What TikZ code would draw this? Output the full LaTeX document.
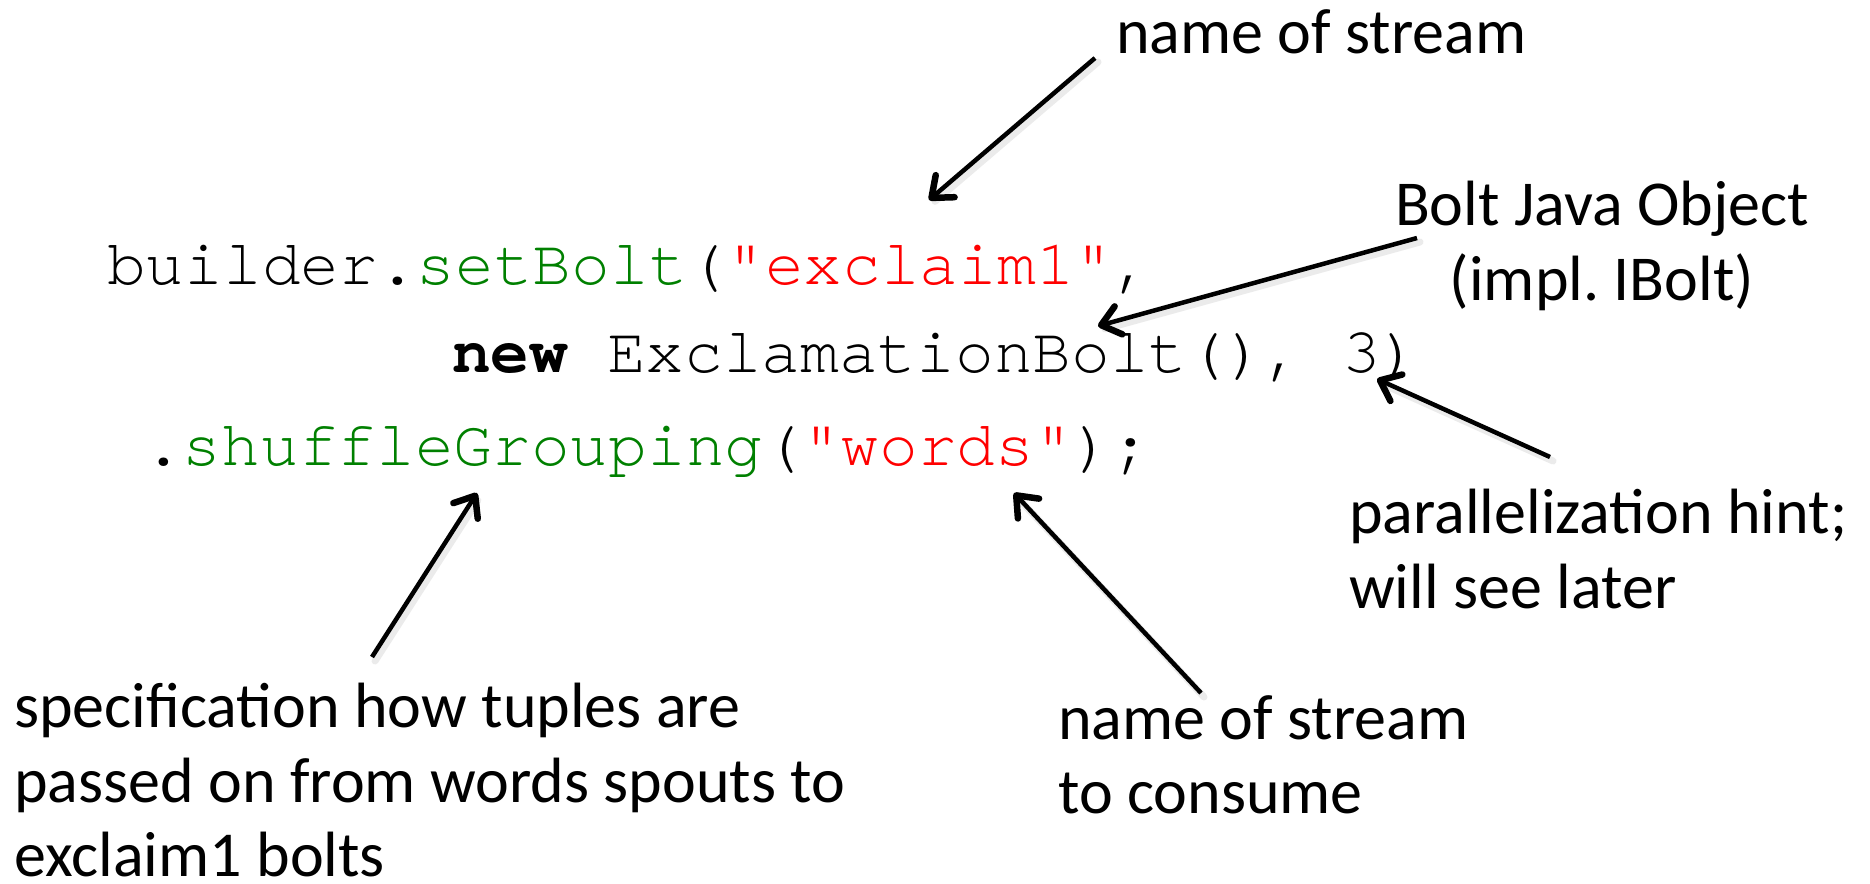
\documentclass[tikz,border=0pt]{standalone}
\usepackage{fontspec}
\setmainfont{Carlito}
\setmonofont[Ligatures=NoCommon]{TeX Gyre Cursor}
\usetikzlibrary{arrows.meta}
\definecolor{codegreen}{RGB}{0,128,0}
\definecolor{codered}{RGB}{255,0,0}
\frenchspacing
\begin{document}
\begin{tikzpicture}[x=1pt,y=-1pt,
  code/.style={anchor=base west,inner sep=0pt,font=\fontsize{64.5}{75}\selectfont\ttfamily},
  lbl/.style={anchor=base west,inner sep=0pt,font=\fontsize{64}{75}\selectfont},
  lblc/.style={anchor=base,inner sep=0pt,font=\fontsize{64}{75}\selectfont},
  pointer/.style={line width=4.5pt,-{Straight Barb[length=18pt,width=29pt,line width=6.5pt,round]}},
  pshadow/.style={line width=7pt,draw=black,opacity=0.08,line cap=round,shorten >=4pt}
]
\path[use as bounding box] (0,0) rectangle (1870,883);

% source code
\node[code] (c1) at (107,284) {builder.\textcolor{codegreen}{setBolt}(\textcolor{codered}{"exclaim1"},};
\node[code] (c2) at (452,372) {\textbf{new} ExclamationBolt(), 3)};
\node[code] (c3) at (144,465) {.\textcolor{codegreen}{shuffleGrouping}(\textcolor{codered}{"words"});};

% annotations
\node[lbl] (nameTop) at (1116,53) {name of stream};
\node[lblc] (bolt1) at (1602,225) {Bolt Java Object};
\node[lblc] (bolt2) at (1602,300) {(impl.\ IBolt)};
\node[lbl] (par1) at (1349,533) {parallelization hint;};
\node[lbl] (par2) at (1349,608) {will see later};
\node[lbl] (spec1) at (14,727) {specification how tuples are};
\node[lbl] (spec2) at (14,802) {passed on from words spouts to};
\node[lbl] (spec3) at (14,876) {exclaim1 bolts};
\node[lbl] (cons1) at (1058,739) {name of stream};
\node[lbl] (cons2) at (1058,813) {to consume};

% arrow ends
\coordinate (aStreamFrom) at (1095,58);
\coordinate (aStreamTo) at (929,200);
\coordinate (aBoltFrom) at (1417,238);
\coordinate (aBoltTo) at (1098,326);
\coordinate (aParFrom) at (1550,457);
\coordinate (aParTo) at (1377,379);
\coordinate (aGroupFrom) at (372,657);
\coordinate (aGroupTo) at (477,493);
\coordinate (aWordsFrom) at (1201,693);
\coordinate (aWordsTo) at (1014,493);

% soft drop shadows
\foreach \f/\t in {aStreamFrom/aStreamTo,aBoltFrom/aBoltTo,aParFrom/aParTo,aGroupFrom/aGroupTo,aWordsFrom/aWordsTo}{
  \draw[pshadow] ([shift={(3,4)}]\f) -- ([shift={(3,4)}]\t);
}

% pointers
\draw[pointer] (aStreamFrom) -- (aStreamTo);
\draw[pointer] (aBoltFrom) -- (aBoltTo);
\draw[pointer] (aParFrom) -- (aParTo);
\draw[pointer] (aGroupFrom) -- (aGroupTo);
\draw[pointer] (aWordsFrom) -- (aWordsTo);
\end{tikzpicture}
\end{document}
